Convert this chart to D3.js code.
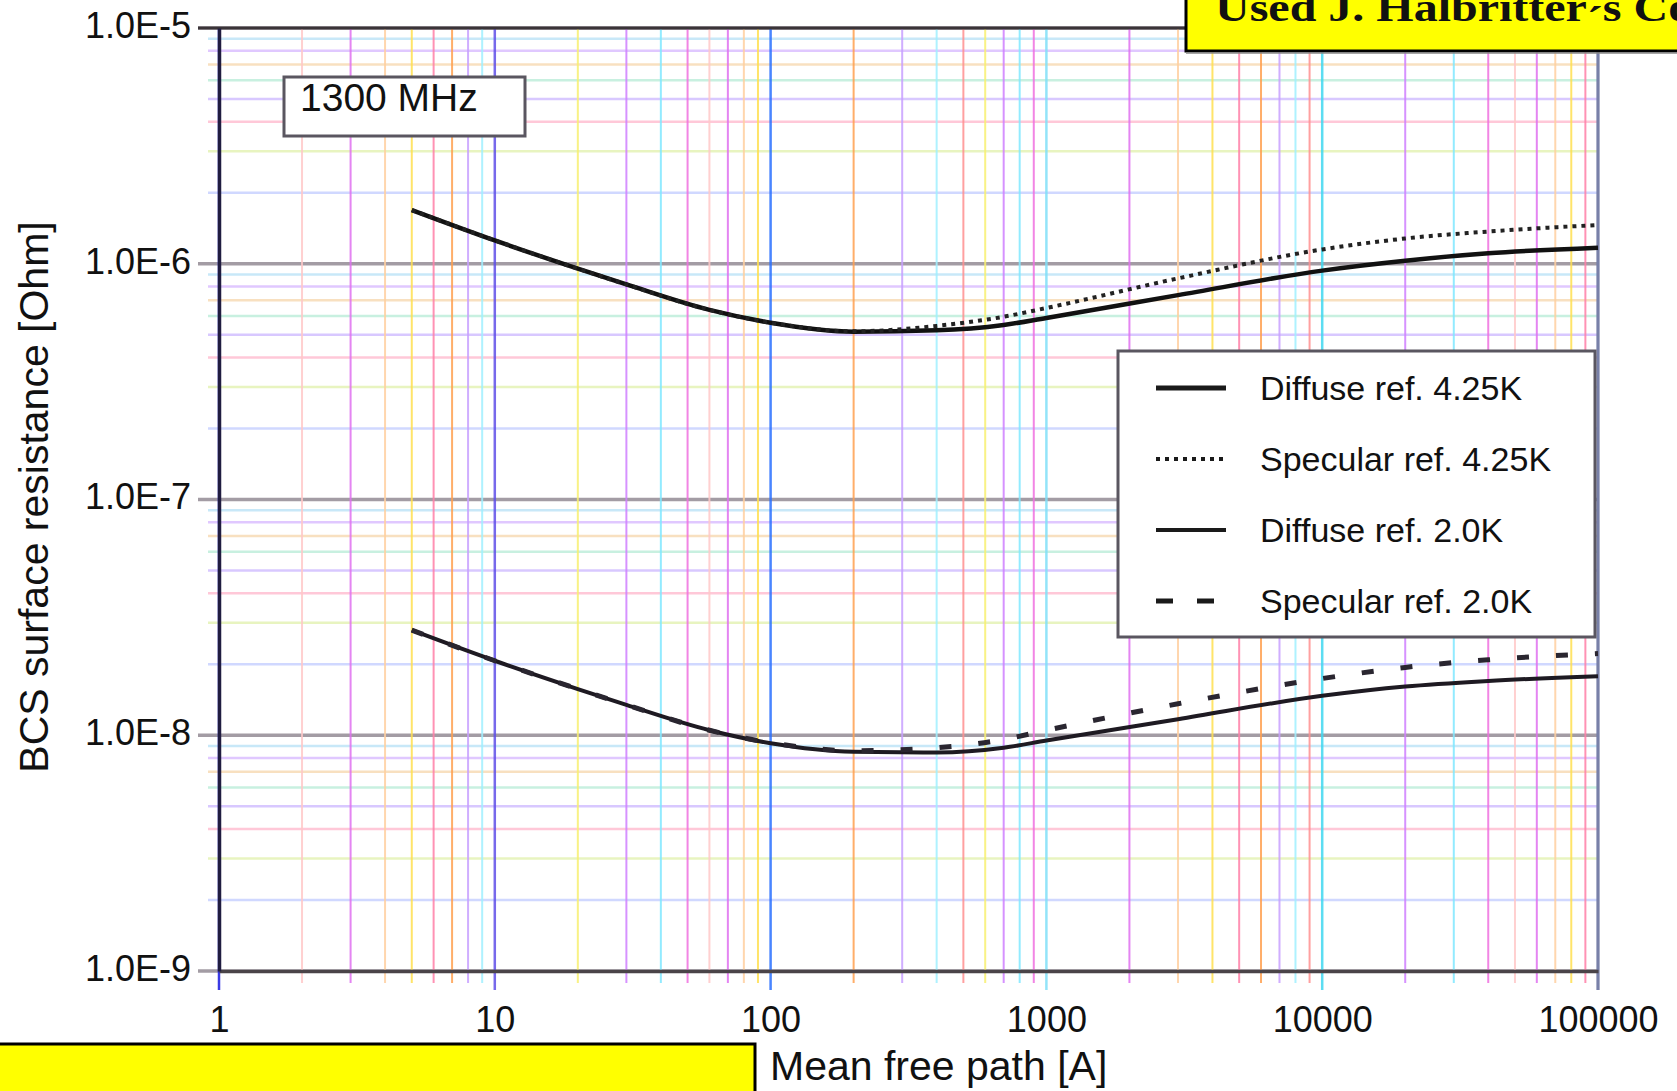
<!DOCTYPE html>
<html lang="en">
<head>
<meta charset="UTF-8">
<title>BCS surface resistance vs mean free path</title>
<script src="https://cdn.jsdelivr.net/npm/d3@7"></script>
<style>
  body { margin: 0; background: #fff; }
  svg { display: block; }
  text { font-family: "Liberation Sans", Arial, sans-serif; fill: #111; }
</style>
</head>
<body>
<svg id="chart" width="1677" height="1091"></svg>
<script>
// mean free path [A], sample points
var mfp = [5, 10, 20, 30, 60, 100, 200, 400, 700, 1000, 3000, 10000, 20000, 40000, 100000];

// BCS surface resistance [Ohm]
var diffuse425  = [1.69e-6, 1.256e-6, 9.53e-7, 8.17e-7, 6.37e-7, 5.62e-7, 5.15e-7, 5.22e-7, 5.5e-7, 5.89e-7, 7.36e-7, 9.35e-7, 1.03e-6, 1.107e-6, 1.17e-6];
var specular425 = [1.69e-6, 1.256e-6, 9.53e-7, 8.17e-7, 6.37e-7, 5.62e-7, 5.17e-7, 5.45e-7, 5.96e-7, 6.49e-7, 8.67e-7, 1.15e-6, 1.28e-6, 1.37e-6, 1.46e-6];
var diffuse20   = [2.79e-8, 2.07e-8, 1.57e-8, 1.345e-8, 1.05e-8, 9.25e-9, 8.51e-9, 8.45e-9, 8.85e-9, 9.5e-9, 1.17e-8, 1.47e-8, 1.61e-8, 1.70e-8, 1.78e-8];
var specular20  = [2.79e-8, 2.07e-8, 1.57e-8, 1.345e-8, 1.05e-8, 9.3e-9, 8.6e-9, 8.85e-9, 9.6e-9, 1.05e-8, 1.36e-8, 1.74e-8, 1.94e-8, 2.09e-8, 2.22e-8];

var seriesNames = ["Diffuse ref. 4.25K", "Specular ref. 4.25K", "Diffuse ref. 2.0K", "Specular ref. 2.0K"];
var xTicks = [1, 10, 100, 1000, 10000, 100000];
var yTicks = [1e-5, 1e-6, 1e-7, 1e-8, 1e-9];
var freqLabel = "1300 MHz";
var xTitle = "Mean free path [A]";
var yTitle = "BCS surface resistance [Ohm]";
var bannerParts = ["Used J. Halbritter", "\u00b4", "s Code"];

var svg = d3.select("#chart");

var x = d3.scaleLog().domain([1, 1e5]).range([219, 1598]);
var y = d3.scaleLog().domain([1e-9, 1e-5]).range([971, 28]);

function isDecade(d) {
  var lg = Math.log10(d);
  return Math.abs(lg - Math.round(lg)) < 1e-9;
}

// scanned-looking rainbow grid
var vPalette = ["#f070e0", "#ffc8c8", "#e070f0", "#ffd0a0", "#ffe050", "#ff80a8", "#ffa050",
                "#c8a0ff", "#a0f0ff", "#ff9090", "#f8f070", "#d080ff", "#80e8ff"];
var vMajor = ["#1818e0", "#6050e8", "#2a70ff", "#80e0f8", "#40d8f0", "#7080b0"];
var hPalette = ["#f0c0e8", "#d0d8ff", "#e8f4c0", "#ffc8d8", "#d8c8ff", "#c8f0e0", "#f8e0c0", "#e0c8ff", "#c8e8f8"];

var grid = svg.append("g");

grid.selectAll("line.h").data(y.ticks()).enter().append("line")
  .attr("x1", function(d) { return isDecade(d) ? 198 : 208; })
  .attr("x2", x.range()[1])
  .attr("y1", function(d) { return y(d); })
  .attr("y2", function(d) { return y(d); })
  .attr("stroke", function(d, i) { return isDecade(d) ? "#a39ca4" : hPalette[i % hPalette.length]; })
  .attr("stroke-width", function(d) { return isDecade(d) ? 3.5 : 2.5; });

grid.selectAll("line.v").data(x.ticks()).enter().append("line")
  .attr("x1", function(d) { return x(d); })
  .attr("x2", function(d) { return x(d); })
  .attr("y1", y.range()[1])
  .attr("y2", function(d) { return isDecade(d) ? 990 : 983; })
  .attr("stroke", function(d, i) {
    return isDecade(d) ? vMajor[Math.round(Math.log10(d))] : vPalette[i % vPalette.length];
  })
  .attr("stroke-width", function(d) { return isDecade(d) ? 2.5 : 2; })
  .attr("opacity", 0.85);

// frame
svg.append("line").attr("x1", 198).attr("x2", x.range()[1]).attr("y1", y.range()[1]).attr("y2", y.range()[1])
  .attr("stroke", "#3a3438").attr("stroke-width", 3);
svg.append("line").attr("x1", x.range()[1]).attr("x2", x.range()[1]).attr("y1", y.range()[1]).attr("y2", 990)
  .attr("stroke", "#7880a8").attr("stroke-width", 3);

// axes
var xAxis = svg.append("g").attr("transform", "translate(0," + y.range()[0] + ")")
  .call(d3.axisBottom(x).tickValues(xTicks).tickFormat(d3.format("d")).tickSize(0).tickPadding(35).tickSizeOuter(0));
xAxis.select(".domain").attr("stroke", "#4a4448").attr("stroke-width", 3.5);
xAxis.selectAll("text").style("font-size", "36px").attr("fill", "#111");

var yAxis = svg.append("g").attr("transform", "translate(" + x.range()[0] + ",0)")
  .call(d3.axisLeft(y).tickValues(yTicks).tickFormat(function(d) { return d.toExponential(1).toUpperCase(); })
    .tickSize(0).tickPadding(28).tickSizeOuter(0));
yAxis.select(".domain").attr("stroke", "#201c40").attr("stroke-width", 3.5);
yAxis.selectAll("text").style("font-size", "36px").attr("dy", "0.26em").attr("fill", "#111");

// curves
var line = d3.line()
  .x(function(d) { return x(d[0]); })
  .y(function(d) { return y(d[1]); })
  .curve(d3.curveMonotoneX);

function pairs(vals) { return mfp.map(function(m, i) { return [m, vals[i]]; }); }

var curves = [
  { vals: diffuse425,  width: 4.5, dash: null,    color: "#111" },
  { vals: diffuse20,   width: 4,   dash: null,    color: "#1e1a22" },
  { vals: specular425, width: 4,   dash: "4,5",   color: "#222" },
  { vals: specular20,  width: 5,   dash: "12,27", color: "#2a2630" }
];

svg.append("g").selectAll("path").data(curves).enter().append("path")
  .attr("d", function(c) { return line(pairs(c.vals)); })
  .attr("fill", "none")
  .attr("stroke", function(c) { return c.color; })
  .attr("stroke-width", function(c) { return c.width; })
  .attr("stroke-dasharray", function(c) { return c.dash; });

// legend
var legend = svg.append("g");
legend.append("rect").attr("x", 1118).attr("y", 351).attr("width", 477).attr("height", 286)
  .attr("fill", "#fff").attr("stroke", "#5a5660").attr("stroke-width", 3);
var legendStyle = [
  { width: 5, dash: null },
  { width: 4, dash: "4,5" },
  { width: 4, dash: null },
  { width: 5, dash: "17,24" }
];
var rows = legend.selectAll("g.row").data(seriesNames).enter().append("g")
  .attr("transform", function(d, i) { return "translate(0," + (388 + i * 71) + ")"; });
rows.append("line").attr("x1", 1156).attr("x2", 1226).attr("y1", 0).attr("y2", 0)
  .attr("stroke", "#1a1a1a")
  .attr("stroke-width", function(d, i) { return legendStyle[i].width; })
  .attr("stroke-dasharray", function(d, i) { return legendStyle[i].dash; });
rows.append("text").attr("x", 1260).attr("y", 12).style("font-size", "34px").text(function(d) { return d; });

// frequency box
svg.append("rect").attr("x", 284).attr("y", 77).attr("width", 241).attr("height", 59)
  .attr("fill", "#fff").attr("stroke", "#5a5660").attr("stroke-width", 3);
svg.append("text").attr("x", 300).attr("y", 111).style("font-size", "39px").text(freqLabel);

// axis titles
svg.append("text").attr("x", 770).attr("y", 1080).style("font-size", "41px").text(xTitle);
svg.append("text").attr("transform", "translate(48,497) rotate(-90)").attr("text-anchor", "middle")
  .style("font-size", "41px").text(yTitle);

// yellow annotation boxes
svg.append("rect").attr("x", 1186).attr("y", -10).attr("width", 520).attr("height", 61)
  .attr("fill", "#ffff00").attr("stroke", "#000").attr("stroke-width", 3);
svg.append("line").attr("x1", 1186).attr("x2", 1677).attr("y1", 53).attr("y2", 53)
  .attr("stroke", "#888").attr("stroke-width", 1.5);
var banner = svg.append("text").attr("transform", "translate(1215,21) scale(1.2,1)")
  .style("font-family", "'Liberation Serif', 'Times New Roman', serif")
  .style("font-weight", "bold").style("font-size", "40px").attr("fill", "#000");
banner.append("tspan").text(bannerParts[0]);
banner.append("tspan").attr("dy", 13).text(bannerParts[1]);
banner.append("tspan").attr("dy", -13).text(bannerParts[2]);

svg.append("rect").attr("x", -10).attr("y", 1044).attr("width", 765).attr("height", 60)
  .attr("fill", "#ffff00").attr("stroke", "#000").attr("stroke-width", 3);
</script>
</body>
</html>
